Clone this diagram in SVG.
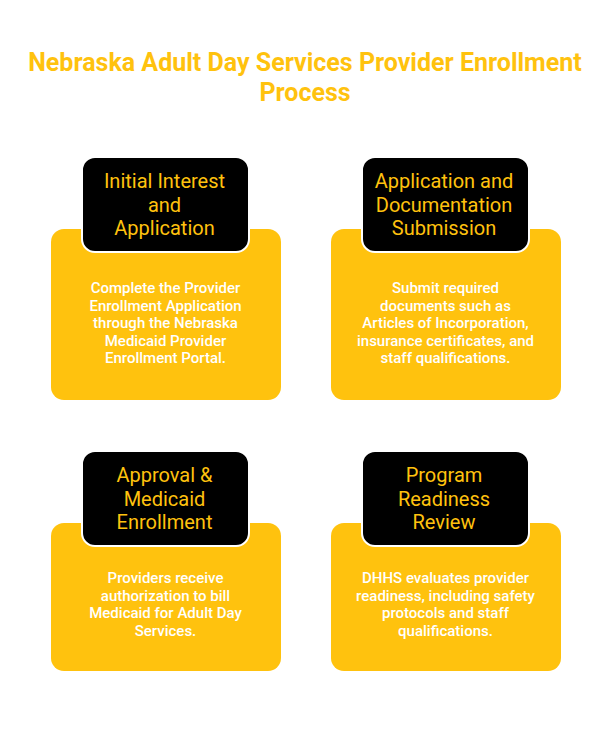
<svg xmlns="http://www.w3.org/2000/svg" width="612" height="745" viewBox="0 0 612 745">
<style>
.title{font-family:Roboto,"Liberation Sans",sans-serif;font-weight:700;font-size:25px;fill:#FFC20E;text-anchor:middle}
.card{fill:#FFC20E}
.head{fill:#000;stroke:#fff;stroke-width:2}
.ht{font-family:Roboto,"Liberation Sans",sans-serif;font-size:20px;fill:#FFC20E;text-anchor:middle}
.bt{font-family:Roboto,"Liberation Sans",sans-serif;font-weight:500;font-size:15px;fill:#fff;text-anchor:middle}
</style>
<rect width="612" height="745" fill="#fff"/>
<text class="title" x="305" y="71">Nebraska Adult Day Services Provider Enrollment</text>
<text class="title" x="305" y="101">Process</text>
<g id="node1">
<rect class="card" x="51" y="229" width="230" height="171" rx="13"/>
<rect class="head" x="82" y="157" width="167" height="95" rx="13"/>
<text class="ht"><tspan x="164.5" y="188">Initial Interest</tspan><tspan x="164.5" y="211.5">and</tspan><tspan x="164.5" y="235">Application</tspan></text>
<text class="bt"><tspan x="165.5" y="293">Complete the Provider</tspan><tspan x="165.5" y="310.5">Enrollment Application</tspan><tspan x="165.5" y="328">through the Nebraska</tspan><tspan x="165.5" y="345.5">Medicaid Provider</tspan><tspan x="165.5" y="363">Enrollment Portal.</tspan></text>
</g>
<g id="node2">
<rect class="card" x="331" y="229" width="230" height="171" rx="13"/>
<rect class="head" x="362" y="157" width="167" height="95" rx="13"/>
<text class="ht"><tspan x="444" y="188">Application and</tspan><tspan x="444" y="211.5">Documentation</tspan><tspan x="444" y="235">Submission</tspan></text>
<text class="bt"><tspan x="445.5" y="293">Submit required</tspan><tspan x="445.5" y="310.5">documents such as</tspan><tspan x="445.5" y="328">Articles of Incorporation,</tspan><tspan x="445.5" y="345.5">insurance certificates, and</tspan><tspan x="445.5" y="363">staff qualifications.</tspan></text>
</g>
<g id="node3">
<rect class="card" x="51" y="523" width="230" height="148" rx="13"/>
<rect class="head" x="82" y="451" width="167" height="95" rx="13"/>
<text class="ht"><tspan x="164.5" y="482">Approval &amp;</tspan><tspan x="164.5" y="505.5">Medicaid</tspan><tspan x="164.5" y="529">Enrollment</tspan></text>
<text class="bt"><tspan x="165.5" y="583">Providers receive</tspan><tspan x="165.5" y="600.5">authorization to bill</tspan><tspan x="165.5" y="618">Medicaid for Adult Day</tspan><tspan x="165.5" y="635.5">Services.</tspan></text>
</g>
<g id="node4">
<rect class="card" x="331" y="523" width="230" height="148" rx="13"/>
<rect class="head" x="362" y="451" width="167" height="95" rx="13"/>
<text class="ht"><tspan x="444" y="482">Program</tspan><tspan x="444" y="505.5">Readiness</tspan><tspan x="444" y="529">Review</tspan></text>
<text class="bt"><tspan x="445.5" y="583">DHHS evaluates provider</tspan><tspan x="445.5" y="600.5">readiness, including safety</tspan><tspan x="445.5" y="618">protocols and staff</tspan><tspan x="445.5" y="635.5">qualifications.</tspan></text>
</g>
<g id="connectors"></g>
</svg>
